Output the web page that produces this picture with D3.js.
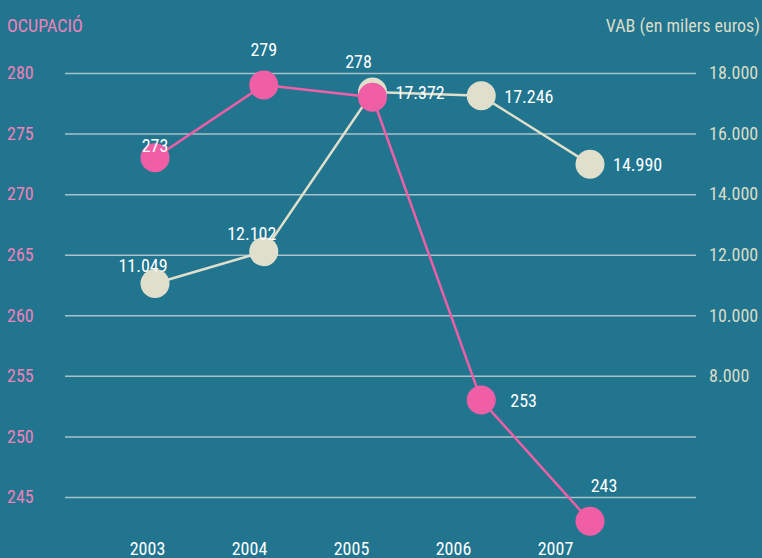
<!DOCTYPE html>
<html>
<head>
<meta charset="utf-8">
<script src="https://cdn.jsdelivr.net/npm/d3@7"></script>
<style>
  html, body { margin: 0; padding: 0; background: #21758f; }
  svg { display: block; }
  text { font-family: Roboto, sans-serif; font-stretch: condensed; font-size: 18px; }
</style>
</head>
<body>
<svg id="chart"></svg>
<script>
var years = ["2003", "2004", "2005", "2006", "2007"];
var ocupacio = [273, 279, 278, 253, 243];
var vab = [11049, 12102, 17372, 17246, 14990];
var leftTicks = [245, 250, 255, 260, 265, 270, 275, 280];
var rightTicks = [8000, 10000, 12000, 14000, 16000, 18000];

var chartWidth = 762, chartHeight = 558;
var pink = "#f05fa6", cream = "#dfdfcb", grid = "#a9c1c8";

var loc = d3.formatLocale({decimal: ",", thousands: ".", grouping: [3], currency: ["", ""]});
var fmt = loc.format(",d");

var chart = d3.select("#chart")
    .attr("width", chartWidth)
    .attr("height", chartHeight);

var x = d3.scalePoint().domain(years).range([155, 590]);
var xLabel = d3.scalePoint().domain(years).range([147, 555]);
var yL = d3.scaleLinear().domain([245, 280]).range([497, 73]);
var yR = d3.scaleLinear().domain([4000, 18000]).range([497, 73]);

// grid lines
var gridG = chart.append("g")
    .attr("transform", "translate(65,0)")
    .call(d3.axisLeft(yL).tickValues(leftTicks).tickSize(-631).tickFormat(""));
gridG.select(".domain").remove();
gridG.selectAll("line").attr("stroke", grid).attr("stroke-width", 1.5);

// left labels
var leftG = chart.append("g")
    .attr("transform", "translate(7,0)")
    .call(d3.axisRight(yL).tickValues(leftTicks).tickSize(0).tickPadding(0));
leftG.select(".domain").remove();
leftG.selectAll("text")
    .attr("fill", "#ee82ba");

// right labels
var rightG = chart.append("g")
    .attr("transform", "translate(709,0)")
    .call(d3.axisRight(yR).tickValues(rightTicks).tickSize(0).tickPadding(0).tickFormat(fmt));
rightG.select(".domain").remove();
rightG.selectAll("text")
    .attr("fill", "#d9dcc8");

// year labels
var bottomG = chart.append("g")
    .attr("transform", "translate(0,555)")
    .call(d3.axisBottom(xLabel).tickSize(0).tickPadding(0));
bottomG.select(".domain").remove();
bottomG.selectAll("text")
    .attr("dy", 0)
    .attr("fill", "#ffffff");

[leftG, rightG, bottomG].forEach(function(g) {
    g.attr("font-size", null).attr("font-family", null);
});

// titles
chart.append("text")
    .text("OCUPACIÓ")
    .attr("x", 7)
    .attr("y", 32)
    .attr("fill", "#ee82ba");
chart.append("text")
    .text("VAB (en milers euros)")
    .attr("x", 760)
    .attr("y", 32)
    .attr("text-anchor", "end")
    .attr("fill", "#d9dcc8");

// VAB series
var lineR = d3.line()
    .x(function(d, i) { return x(years[i]); })
    .y(function(d) { return yR(d); });
chart.append("path")
    .datum(vab)
    .attr("d", lineR)
    .attr("fill", "none")
    .attr("stroke", cream)
    .attr("stroke-width", 2.5);
chart.selectAll(".dotR")
    .data(vab)
    .enter().append("circle")
        .attr("class", "dotR")
        .attr("cx", function(d, i) { return x(years[i]); })
        .attr("cy", yR)
        .attr("r", 14.5)
        .attr("fill", cream);

// Ocupacio series
var lineL = d3.line()
    .x(function(d, i) { return x(years[i]); })
    .y(function(d) { return yL(d); });
chart.append("path")
    .datum(ocupacio)
    .attr("d", lineL)
    .attr("fill", "none")
    .attr("stroke", pink)
    .attr("stroke-width", 2.5);
chart.selectAll(".dotL")
    .data(ocupacio)
    .enter().append("circle")
        .attr("class", "dotL")
        .attr("cx", function(d, i) { return x(years[i]); })
        .attr("cy", yL)
        .attr("r", 14.5)
        .attr("fill", pink);

// value labels: first two VAB labels sit above-left, the rest to the right
chart.selectAll(".labR")
    .data(vab)
    .enter().append("text")
        .attr("class", "labR")
        .text(fmt)
        .attr("x", function(d, i) { return i < 2 ? x(years[i]) - 12 : x(years[i]) + 23; })
        .attr("y", function(d, i) { return i < 2 ? yR(d) - 12 : yR(d) + 7; })
        .attr("text-anchor", function(d, i) { return i < 2 ? "middle" : "start"; })
        .attr("fill", "#ffffff");

// ocupacio labels: above the point, except 2006 which sits to the right
chart.selectAll(".labL")
    .data(ocupacio)
    .enter().append("text")
        .attr("class", "labL")
        .text(function(d) { return d; })
        .attr("x", function(d, i) {
            if (i == 3) return x(years[i]) + 29;
            if (i == 4) return x(years[i]) + 14;
            if (i == 2) return x(years[i]) - 14;
            return x(years[i]);
        })
        .attr("y", function(d, i) {
            if (i == 0) return yL(d) - 6;
            if (i == 3) return yL(d) + 7;
            return yL(d) - 29;
        })
        .attr("text-anchor", function(d, i) { return i == 3 ? "start" : "middle"; })
        .attr("fill", "#ffffff");
</script>
</body>
</html>
